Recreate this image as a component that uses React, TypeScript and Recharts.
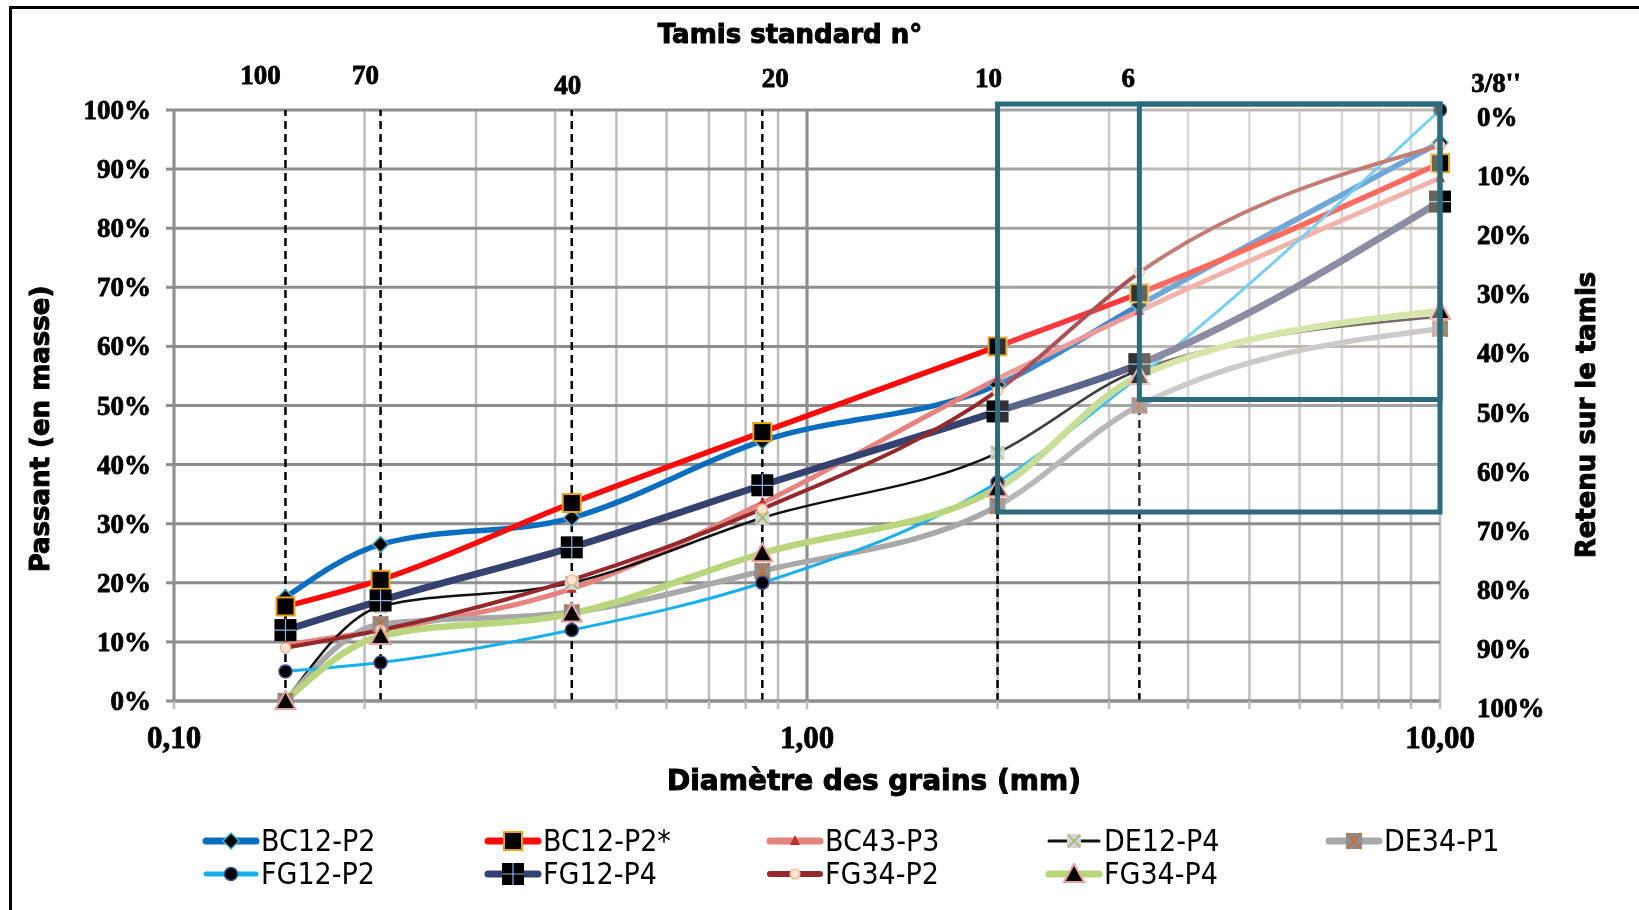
import React from "react";
import {
  LineChart,
  Line,
  XAxis,
  YAxis,
  CartesianGrid,
  ReferenceLine,
  ReferenceArea,
} from "recharts";

// sieve openings (mm) and their standard numbers
const sieveSizes = [0.15, 0.212, 0.425, 0.85, 2, 3.35, 10];
const sieveLabels = ["100", "70", "40", "20", "10", "6", "3/8''"];

const xTicks = [0.1, 0.2, 0.3, 0.4, 0.5, 0.6, 0.7, 0.8, 0.9, 1, 2, 3, 4, 5, 6, 7, 8, 9, 10];
const pctTicks = [0, 10, 20, 30, 40, 50, 60, 70, 80, 90, 100];

// % passant per sieve
const bc12P2 = [17.5, 26.5, 31, 44, 53.5, 67, 94.5];
const bc12P2star = [16, 20.5, 33.5, 45.5, 60, 69, 91];
const bc43P3 = [9.5, 12, 19, 33.5, 54.5, 66, 88.5];
const de12P4 = [0, 16, 20, 31, 42, 56, 65];
const de34P1 = [0, 13, 15, 22, 33, 50, 63];
const fg12P2 = [5, 6.5, 12, 20, 37, 55, 100];
const fg12P4 = [12, 17, 26, 36.5, 49, 57, 84.5];
const fg34P2 = [9, 12, 20.5, 32.5, 52.5, 72.5, 94];
const fg34P4 = [0, 11, 14.8, 25, 36, 55, 66];

// highlighted zones (bottom limits, % passant)
const outerZoneBottom = 32;
const innerZoneBottom = 51;

type MarkerKind =
  | "diamond"
  | "squareOrange"
  | "triangleRed"
  | "xGreen"
  | "starBrown"
  | "circleBlack"
  | "plusSquare"
  | "circleBeige"
  | "triangleBlack";

const series: {
  key: string;
  name: string;
  values: number[];
  color: string;
  width: number;
  legendWidth: number;
  marker: MarkerKind;
}[] = [
  { key: "bc12p2", name: "BC12-P2", values: bc12P2, color: "#0A6EC0", width: 5.5, legendWidth: 7, marker: "diamond" },
  { key: "bc12p2s", name: "BC12-P2*", values: bc12P2star, color: "#FF0A0A", width: 5.5, legendWidth: 7, marker: "squareOrange" },
  { key: "bc43p3", name: "BC43-P3", values: bc43P3, color: "#E6837E", width: 5, legendWidth: 7, marker: "triangleRed" },
  { key: "de12p4", name: "DE12-P4", values: de12P4, color: "#111111", width: 2.5, legendWidth: 3, marker: "xGreen" },
  { key: "de34p1", name: "DE34-P1", values: de34P1, color: "#A8A8A8", width: 5.5, legendWidth: 7, marker: "starBrown" },
  { key: "fg12p2", name: "FG12-P2", values: fg12P2, color: "#16B0EE", width: 3, legendWidth: 5, marker: "circleBlack" },
  { key: "fg12p4", name: "FG12-P4", values: fg12P4, color: "#35416F", width: 7, legendWidth: 7, marker: "plusSquare" },
  { key: "fg34p2", name: "FG34-P2", values: fg34P2, color: "#96282B", width: 4, legendWidth: 6, marker: "circleBeige" },
  { key: "fg34p4", name: "FG34-P4", values: fg34P4, color: "#B9D67C", width: 6.5, legendWidth: 7, marker: "triangleBlack" },
];

const rows = sieveSizes.map((d, i) => {
  const r: any = { d };
  series.forEach((s) => (r[s.key] = s.values[i]));
  return r;
});

const tickFont = {
  fontFamily: "'Liberation Serif', 'Times New Roman', serif",
  fontWeight: 700,
  fontSize: 27,
  fill: "#000",
  stroke: "#000",
  strokeWidth: 0.8,
};
const titleFont = {
  fontFamily: "'DejaVu Sans', sans-serif",
  fontWeight: 700,
  fill: "#000",
  stroke: "#000",
  strokeWidth: 1,
};

function drawMarker(kind: MarkerKind, cx: number, cy: number) {
  switch (kind) {
    case "diamond":
      return (
        <path
          d={`M${cx},${cy - 8}L${cx + 8},${cy}L${cx},${cy + 8}L${cx - 8},${cy}Z`}
          fill="#000"
          stroke="#4BACC6"
          strokeWidth={1.5}
        />
      );
    case "squareOrange":
      return <rect x={cx - 9} y={cy - 9} width={18} height={18} fill="#000" stroke="#E8A317" strokeWidth={2} />;
    case "triangleRed":
      return <path d={`M${cx},${cy - 6}L${cx + 5},${cy + 4}L${cx - 5},${cy + 4}Z`} fill="#C0302B" />;
    case "xGreen":
      return (
        <g>
          <rect x={cx - 7} y={cy - 7} width={14} height={14} fill="#D4D4D4" />
          <path d={`M${cx - 6},${cy - 6}L${cx + 6},${cy + 6}M${cx + 6},${cy - 6}L${cx - 6},${cy + 6}`} stroke="#9BBB59" strokeWidth={1.6} />
        </g>
      );
    case "starBrown":
      return (
        <g>
          <rect x={cx - 8} y={cy - 8} width={16} height={16} fill="#8E8E8E" />
          <path
            d={`M${cx - 7},${cy - 8}L${cx + 7},${cy + 8}M${cx + 7},${cy - 8}L${cx - 7},${cy + 8}M${cx},${cy - 8}L${cx},${cy + 8}`}
            stroke="#C0703A"
            strokeWidth={1.6}
          />
        </g>
      );
    case "circleBlack":
      return <circle cx={cx} cy={cy} r={6.5} fill="#000" stroke="#3F4F8F" strokeWidth={1.5} />;
    case "plusSquare":
      return (
        <g>
          <rect x={cx - 11} y={cy - 11} width={22} height={22} fill="#000" />
          <path d={`M${cx - 11},${cy}L${cx + 11},${cy}M${cx},${cy - 11}L${cx},${cy + 11}`} stroke="#8DB4E2" strokeWidth={1.2} />
        </g>
      );
    case "circleBeige":
      return <circle cx={cx} cy={cy} r={5} fill="#FBE5D0" stroke="#F4B183" strokeWidth={1.2} />;
    case "triangleBlack":
      return (
        <path
          d={`M${cx},${cy - 10}L${cx + 10},${cy + 8}L${cx - 10},${cy + 8}Z`}
          fill="#000"
          stroke="#E6A3A3"
          strokeWidth={2}
        />
      );
  }
}

const BottomTick = (props: any) => {
  const { x, y, payload } = props;
  const v = payload.value;
  if (v !== 0.1 && v !== 1 && v !== 10) return <g />;
  return (
    <text x={x} y={y + 28} textAnchor="middle" dominantBaseline="central" style={{ ...tickFont, fontSize: 31 }}>
      {v.toFixed(2).replace(".", ",")}
    </text>
  );
};

// label nudges for the sieve numbers (placed by hand in the original)
const topLabelDx = [-25, -15, -4, 13, -9, -11, 56];
const topLabelY = [75, 75, 85, 78, 78, 78, 83];

const TopTick = (props: any) => {
  const { x, payload } = props;
  const i = sieveSizes.indexOf(payload.value);
  if (i < 0) return <g />;
  return (
    <text x={x + topLabelDx[i]} y={topLabelY[i]} textAnchor="middle" dominantBaseline="central" style={tickFont}>
      {sieveLabels[i]}
    </text>
  );
};

const LeftTick = (props: any) => {
  const { x, y, payload } = props;
  return (
    <text x={x} y={y} textAnchor="end" dominantBaseline="central" style={tickFont}>
      {payload.value}%
    </text>
  );
};

const RightTick = (props: any) => {
  const { x, y, payload } = props;
  return (
    <text x={x} y={y + 7} textAnchor="start" dominantBaseline="central" style={tickFont}>
      {payload.value}%
    </text>
  );
};

// tinted zone drawn with a screen blend so the white paper stays white
const tintShape = (color: string) => (p: any) => (
  <rect x={p.x} y={p.y} width={p.width} height={p.height} fill={color} style={{ mixBlendMode: "screen" }} />
);

const legendCols = [202, 484, 766, 1045, 1325];
const legendRows = [841, 874];

export default function App() {
  return (
    <div style={{ position: "absolute", left: 0, top: 0, width: 1639, height: 910, overflow: "hidden", background: "#fff" }}>
      <div
        style={{
          position: "absolute",
          left: 9,
          top: 6,
          width: 1700,
          height: 1000,
          borderLeft: "3px solid #000",
          borderTop: "3px solid #000",
        }}
      />
      <LineChart width={1639} height={910} data={rows} margin={{ top: 0, right: 0, bottom: 0, left: 0 }}>
        <CartesianGrid horizontal={false} stroke="#BEBEBE" strokeWidth={2.5} />
        <CartesianGrid vertical={false} stroke="#8E8E8E" strokeWidth={3} />
        <XAxis
          dataKey="d"
          type="number"
          scale="log"
          domain={[0.1, 10]}
          ticks={xTicks}
          interval={0}
          height={209}
          tickSize={8}
          tickMargin={0}
          axisLine={{ stroke: "#8E8E8E", strokeWidth: 3 }}
          tickLine={{ stroke: "#BEBEBE", strokeWidth: 2.5 }}
          tick={<BottomTick />}
          label={() => (
            <text x={874} y={780} textAnchor="middle" dominantBaseline="central" style={{ ...titleFont, fontSize: 28 }}>
              Diamètre des grains (mm)
            </text>
          )}
        />
        <XAxis
          xAxisId="top"
          dataKey="d"
          orientation="top"
          type="number"
          scale="log"
          domain={[0.1, 10]}
          ticks={sieveSizes}
          interval={0}
          height={110}
          axisLine={false}
          tickLine={false}
          tick={<TopTick />}
          label={() => (
            <text x={790} y={34} textAnchor="middle" dominantBaseline="central" style={{ ...titleFont, fontSize: 26 }}>
              Tamis standard n°
            </text>
          )}
        />
        <YAxis
          type="number"
          domain={[0, 100]}
          ticks={pctTicks}
          interval={0}
          width={174}
          tickSize={8}
          tickMargin={15}
          axisLine={{ stroke: "#8E8E8E", strokeWidth: 3 }}
          tickLine={{ stroke: "#8E8E8E", strokeWidth: 3 }}
          tick={<LeftTick />}
          label={() => (
            <text
              x={40}
              y={429}
              textAnchor="middle"
              dominantBaseline="central"
              transform="rotate(-90 40 429)"
              style={{ ...titleFont, fontSize: 26 }}
            >
              Passant (en masse)
            </text>
          )}
        />
        <YAxis
          yAxisId="right"
          orientation="right"
          type="number"
          domain={[0, 100]}
          reversed
          ticks={pctTicks}
          interval={0}
          width={199}
          tickSize={0}
          tickMargin={37}
          axisLine={false}
          tickLine={false}
          tick={<RightTick />}
          label={() => (
            <text
              x={1586}
              y={415}
              textAnchor="middle"
              dominantBaseline="central"
              transform="rotate(-90 1586 415)"
              style={{ ...titleFont, fontSize: 26 }}
            >
              Retenu sur le tamis
            </text>
          )}
        />
        <ReferenceLine x={1} stroke="#8E8E8E" strokeWidth={3} />
        {sieveSizes.slice(0, 6).map((s) => (
          <ReferenceLine key={`sieve-${s}`} x={s} stroke="#000" strokeWidth={2.5} strokeDasharray="8 5" />
        ))}
        {/* invisible series so the top and right axes get their scales */}
        <Line
          xAxisId="top"
          yAxisId="right"
          dataKey="bc12p2"
          stroke="none"
          dot={false}
          activeDot={false}
          legendType="none"
          isAnimationActive={false}
        />
        {series.map((s) => (
          <Line
            key={s.key}
            type="monotone"
            dataKey={s.key}
            name={s.name}
            stroke={s.color}
            strokeWidth={s.width}
            isAnimationActive={false}
            activeDot={false}
            dot={(p: any) => (
              <g key={`${s.key}-${p.index}`}>{drawMarker(s.marker, p.cx, p.cy)}</g>
            )}
          />
        ))}
        <ReferenceArea
          x1={2}
          x2={10}
          y1={outerZoneBottom}
          y2={101}
          ifOverflow="visible"
          shape={tintShape("#303034")}
          zIndex={2100}
        />
        <ReferenceArea
          x1={3.35}
          x2={10}
          y1={innerZoneBottom}
          y2={101}
          ifOverflow="visible"
          shape={tintShape("#49402E")}
          zIndex={2100}
        />
        <ReferenceArea
          x1={2}
          x2={10}
          y1={outerZoneBottom}
          y2={101}
          ifOverflow="visible"
          fill="none"
          stroke="#2B6B7B"
          strokeWidth={5}
          zIndex={2200}
        />
        <ReferenceArea
          x1={3.35}
          x2={10}
          y1={innerZoneBottom}
          y2={101}
          ifOverflow="visible"
          fill="none"
          stroke="#2B6B7B"
          strokeWidth={5}
          zIndex={2200}
        />
      </LineChart>
      {series.map((s, i) => {
        const col = legendCols[i < 5 ? i : i - 5];
        const row = legendRows[i < 5 ? 0 : 1];
        return (
          <div
            key={`leg-${s.key}`}
            style={{ position: "absolute", left: col, top: row - 15, height: 30, display: "flex", alignItems: "center" }}
          >
            <svg width={59} height={30} style={{ display: "block" }}>
              <line x1={4} y1={15} x2={54} y2={15} stroke={s.color} strokeWidth={s.legendWidth} strokeLinecap="round" />
              {drawMarker(s.marker, 29, 15)}
            </svg>
            <span
              style={{
                fontFamily: "'DejaVu Sans Condensed', 'Liberation Sans Narrow', sans-serif",
                fontSize: 30,
                lineHeight: "30px",
                height: 30,
                color: "#000",
                whiteSpace: "nowrap",
                display: "inline-block",
              }}
            >
              {s.name}
            </span>
          </div>
        );
      })}
    </div>
  );
}
